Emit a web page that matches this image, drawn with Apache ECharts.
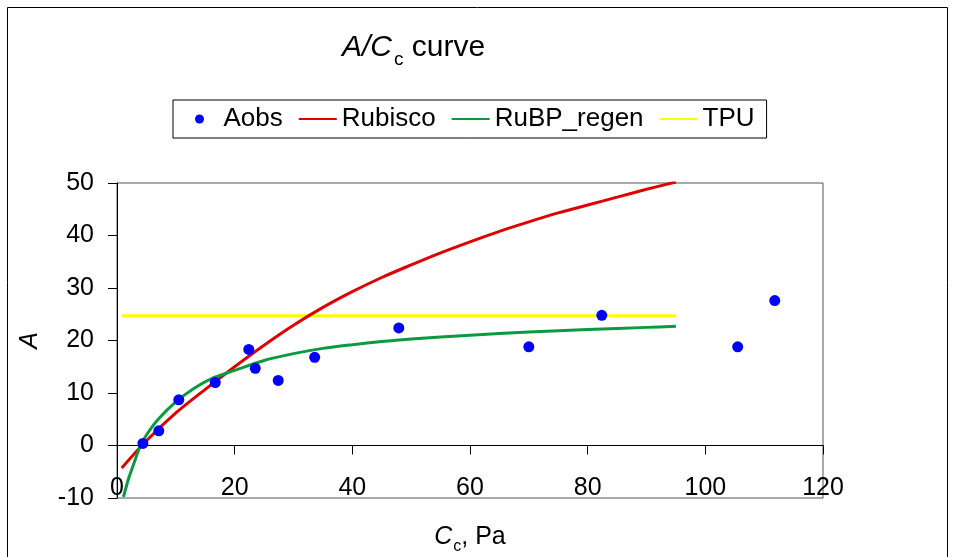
<!DOCTYPE html>
<html>
<head>
<meta charset="utf-8">
<script src="https://cdn.jsdelivr.net/npm/echarts@6/dist/echarts.min.js"></script>
<style>
html,body{margin:0;padding:0;background:#fff;}
#chart{width:953px;height:557px;}
</style>
</head>
<body>
<div id="chart"></div>
<script>
// ---- data ----
const xTicks = [0, 20, 40, 60, 80, 100, 120];
const yTicks = [-10, 0, 10, 20, 30, 40, 50];

const aobsX = [4.4, 7.1, 10.5, 16.7, 22.4, 23.5, 27.4, 33.6, 47.9, 70.0, 82.4, 105.5, 111.8];
const aobsY = [0.4, 2.8, 8.7, 12.0, 18.3, 14.7, 12.4, 16.8, 22.4, 18.8, 24.8, 18.8, 27.6];

const rubiscoX = [0.8, 5, 10, 15, 20, 25, 30, 35, 40, 45, 50, 55, 60, 65, 70, 75, 80, 85, 90, 95];
const rubiscoY = [-4.3, 0.9, 6.2, 10.7, 15.0, 19.1, 22.9, 26.3, 29.3, 32.0, 34.4, 36.7, 38.8, 40.8, 42.6, 44.3, 45.8, 47.3, 48.8, 50.2];

const rubpX = [1.1, 2, 3, 4, 5, 7, 10, 13, 16, 20, 25, 30, 35, 40, 45, 50, 60, 70, 80, 90, 95];
const rubpY = [-9.8, -6.2, -3.0, 0.0, 2.0, 5.0, 8.3, 10.8, 12.7, 14.3, 16.2, 17.5, 18.5, 19.2, 19.8, 20.3, 21.0, 21.6, 22.1, 22.5, 22.7];

const tpuX = [0.8, 95];
const tpuY = [24.7, 24.7];

const seriesNames = ['Aobs', 'Rubisco', 'RuBP_regen', 'TPU'];

const zip = (xs, ys) => xs.map((x, i) => [x, ys[i]]);

const FONT = '"Liberation Sans", Arial, sans-serif';

const chart = echarts.init(document.getElementById('chart'), null, {renderer: 'canvas'});

const xMin = xTicks[0], xMax = xTicks[xTicks.length - 1], xInt = xTicks[1] - xTicks[0];
const yMin = yTicks[0], yMax = yTicks[yTicks.length - 1], yInt = yTicks[1] - yTicks[0];

chart.setOption({
  animation: false,
  backgroundColor: '#fff',
  textStyle: {fontFamily: FONT},
  graphic: [{
    type: 'rect',
    shape: {x: 7.5, y: 7.5, width: 940, height: 600},
    style: {fill: 'none', stroke: '#000', lineWidth: 1},
    silent: true
  }],
  title: {
    text: '{i|A/C}{s|c}{n| curve}',
    left: 342,
    top: 33,
    padding: 0,
    textStyle: {
      fontFamily: FONT,
      fontWeight: 'normal',
      rich: {
        i: {fontSize: 30, fontStyle: 'italic', fontWeight: 'normal', color: '#000', fontFamily: FONT, lineHeight: 32, verticalAlign: 'top'},
        s: {fontSize: 19, fontWeight: 'normal', color: '#000', fontFamily: FONT, lineHeight: 19, verticalAlign: 'top', padding: [17, 0, 0, 2]},
        n: {fontSize: 30, fontWeight: 'normal', color: '#000', fontFamily: FONT, lineHeight: 32, verticalAlign: 'top'}
      }
    }
  },
  legend: {
    left: 173,
    top: 100,
    orient: 'horizontal',
    backgroundColor: '#fff',
    borderColor: '#000',
    borderWidth: 1,
    padding: [6, 12, 6, 22],
    itemWidth: 38,
    itemHeight: 9,
    itemGap: 15,
    textStyle: {fontSize: 26, color: '#000', fontFamily: FONT},
    data: [
      {name: seriesNames[0]},
      {name: seriesNames[1], itemStyle: {opacity: 0}},
      {name: seriesNames[2], itemStyle: {opacity: 0}},
      {name: seriesNames[3], itemStyle: {opacity: 0}}
    ]
  },
  grid: {
    left: 117, right: 130, top: 183, bottom: 59,
    outerBoundsMode: 'none',
    containLabel: false,
    show: true, borderColor: '#555', borderWidth: 1, backgroundColor: 'transparent'
  },
  xAxis: [{
    type: 'value', gridIndex: 0, min: xMin, max: xMax, interval: xInt,
    axisLine: {show: true, onZero: true, lineStyle: {color: '#000', width: 1}},
    axisTick: {show: true, length: 9, inside: false, lineStyle: {color: '#000'}},
    axisLabel: {show: false},
    splitLine: {show: false}
  }, {
    type: 'value', gridIndex: 0, position: 'bottom', min: xMin, max: xMax, interval: xInt,
    axisLine: {show: false, onZero: false},
    axisTick: {show: false},
    axisLabel: {show: true, margin: -22, fontSize: 25, color: '#000', fontFamily: FONT},
    splitLine: {show: false},
    name: '{i|C}{s|c}{n|, Pa}',
    nameLocation: 'middle',
    nameGap: 27,
    nameTextStyle: {
      rich: {
        i: {fontSize: 25, fontStyle: 'italic', color: '#000', fontFamily: FONT, lineHeight: 26, verticalAlign: 'top'},
        s: {fontSize: 16, color: '#000', fontFamily: FONT, lineHeight: 16, verticalAlign: 'top', padding: [14, 0, 0, 1]},
        n: {fontSize: 25, color: '#000', fontFamily: FONT, lineHeight: 26, verticalAlign: 'top'}
      }
    }
  }],
  yAxis: {
    type: 'value', min: yMin, max: yMax, interval: yInt,
    axisLine: {show: true, onZero: false, lineStyle: {color: '#000', width: 1}},
    axisTick: {show: true, length: 9, lineStyle: {color: '#000'}},
    axisLabel: {margin: 23, fontSize: 25, color: '#000', fontFamily: FONT},
    splitLine: {show: false},
    name: 'A',
    nameLocation: 'middle',
    nameRotate: 90,
    nameGap: 74,
    nameTextStyle: {fontSize: 25, fontStyle: 'italic', color: '#000', fontFamily: FONT}
  },
  series: [{
    name: seriesNames[0], type: 'scatter', xAxisIndex: 0,
    data: zip(aobsX, aobsY), symbol: 'circle', symbolSize: 11,
    itemStyle: {color: '#0000FF', opacity: 1}, z: 5
  }, {
    name: seriesNames[1], type: 'line', xAxisIndex: 0,
    data: zip(rubiscoX, rubiscoY), smooth: 0.3, symbol: 'none',
    lineStyle: {color: '#E00000', width: 3}, itemStyle: {color: '#E00000'}, z: 3
  }, {
    name: seriesNames[2], type: 'line', xAxisIndex: 0,
    data: zip(rubpX, rubpY), smooth: 0.3, symbol: 'none',
    lineStyle: {color: '#0A9A40', width: 3}, itemStyle: {color: '#0A9A40'}, z: 3
  }, {
    name: seriesNames[3], type: 'line', xAxisIndex: 0,
    data: zip(tpuX, tpuY), symbol: 'none',
    lineStyle: {color: '#FFFF00', width: 3}, itemStyle: {color: '#FFFF00'}, z: 2
  }]
});
</script>
</body>
</html>
